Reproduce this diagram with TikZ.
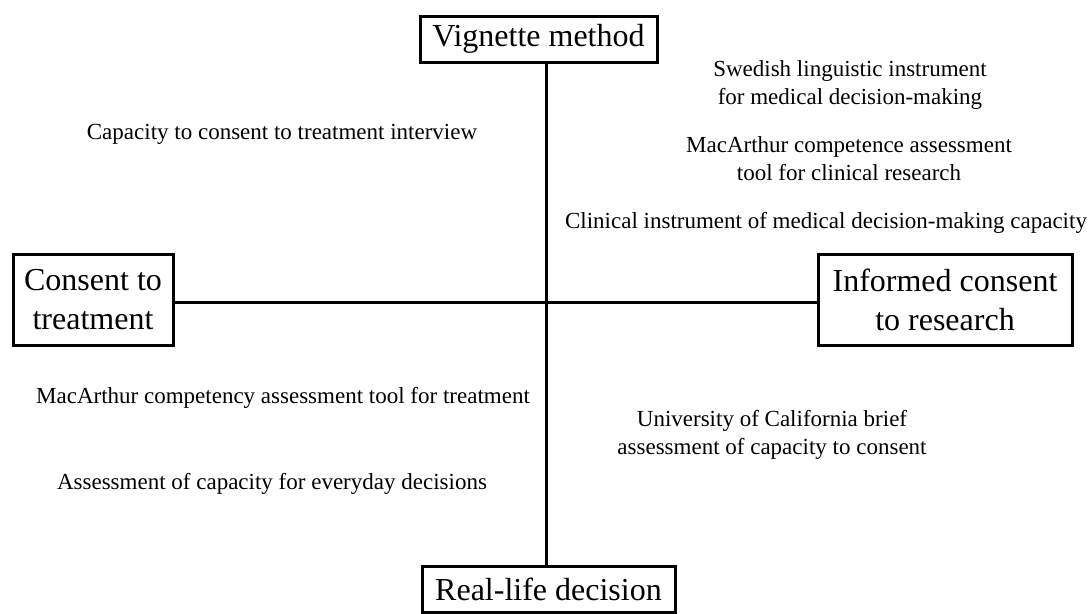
\documentclass[tikz,border=0pt]{standalone}
\usepackage{fontspec}
\setmainfont{Liberation Serif}
\begin{document}
\begin{tikzpicture}[x=1pt,y=-1pt,
  axisbox/.style={draw=black,line width=3pt,inner sep=0pt,align=center,
    font=\fontsize{32}{39}\selectfont},
  label/.style={inner sep=0pt,align=center,font=\fontsize{23}{28}\selectfont},
  axisline/.style={line width=3pt}]
\useasboundingbox (0,0) rectangle (1091,613);
\node[axisbox,minimum width=237pt,minimum height=46pt] (vig) at (538.5,39) {Vignette method};
\node[axisbox,minimum width=160pt,minimum height=91pt] (cons) at (93,299.5) {Consent to\\treatment};
\node[axisbox,minimum width=254pt,minimum height=91pt] (inf) at (945,299.5) {Informed consent\\to research};
\node[axisbox,minimum width=253pt,minimum height=46pt] (real) at (548.5,589) {Real-life decision};
\coordinate (c) at (546,302);
\draw[axisline] (vig.south -| c) -- (real.north -| c);
\draw[axisline] (cons.east |- c) -- (inf.west |- c);
\node[label] (l1) at (850,85) {Swedish linguistic instrument\\for medical decision-making};
\node[label] (l2) at (849,159) {MacArthur competence assessment\\tool for clinical research};
\node[label] (l3) at (826,223) {Clinical instrument of medical decision-making capacity};
\node[label] (l4) at (282,134) {Capacity to consent to treatment interview};
\node[label] (l5) at (283,398) {MacArthur competency assessment tool for treatment};
\node[label] (l6) at (272,484) {Assessment of capacity for everyday decisions};
\node[label] (l7) at (772,435) {University of California brief\\assessment of capacity to consent};
\end{tikzpicture}
\end{document}
